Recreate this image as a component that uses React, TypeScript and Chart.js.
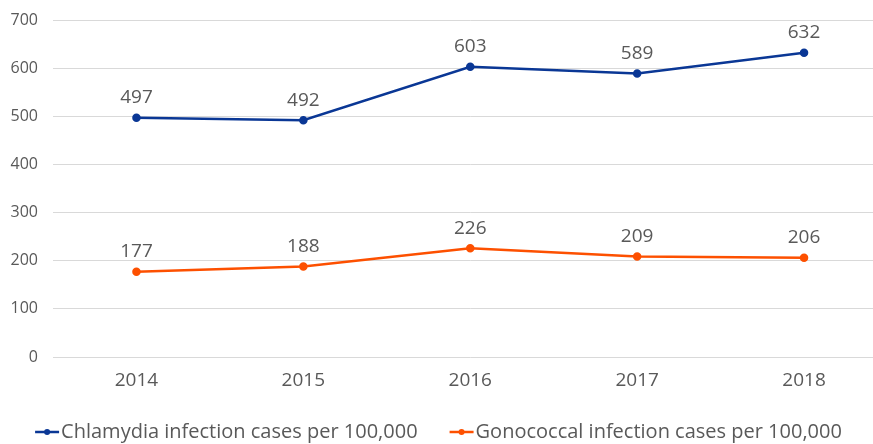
import React, { useEffect, useRef } from "react";
import { Chart, registerables } from "chart.js";

Chart.register(...registerables);

const years = ["2014", "2015", "2016", "2017", "2018"];
const chlamydia = [497, 492, 603, 589, 632];
const gonococcal = [177, 188, 226, 209, 206];
const seriesNames = [
  "Chlamydia infection cases per 100,000",
  "Gonococcal infection cases per 100,000",
];
const blue = "#0a3795";
const orange = "#fd5000";
const textColor = "#595959";
const FONT = "'Open Sans', sans-serif";
const VIEW_W = 873;

const labelPlugin = {
  id: "valueLabels",
  afterDatasetsDraw(chart: any) {
    const ctx = chart.ctx;
    ctx.save();
    ctx.font = `19px ${FONT}`;
    ctx.fillStyle = textColor;
    ctx.textAlign = "center";
    ctx.textBaseline = "middle";
    chart.data.datasets.forEach((ds: any, i: number) => {
      const meta = chart.getDatasetMeta(i);
      meta.data.forEach((pt: any, j: number) => {
        ctx.fillText(String(ds.data[j]), pt.x, pt.y - 20);
      });
    });
    ctx.restore();
  },
};

const legendPlugin = {
  id: "customLegend",
  afterDraw(chart: any) {
    const ctx = chart.ctx;
    ctx.save();
    ctx.font = `20px ${FONT}`;
    const lineW = 24;
    const gapText = 2;
    const gapItem = 32;
    const items = chart.data.datasets.map((ds: any) => ({
      text: ds.label,
      color: ds.borderColor,
      w: lineW + gapText + ctx.measureText(ds.label).width,
    }));
    const total =
      items.reduce((s: number, it: any) => s + it.w, 0) + gapItem * (items.length - 1);
    let x = VIEW_W / 2 - total / 2 + 2;
    const y = 432;
    items.forEach((it: any) => {
      ctx.strokeStyle = it.color;
      ctx.lineWidth = 2.5;
      ctx.beginPath();
      ctx.moveTo(x, y);
      ctx.lineTo(x + lineW, y);
      ctx.stroke();
      ctx.fillStyle = it.color;
      ctx.beginPath();
      ctx.arc(x + lineW / 2, y, 3, 0, Math.PI * 2);
      ctx.fill();
      ctx.fillStyle = textColor;
      ctx.textAlign = "left";
      ctx.textBaseline = "middle";
      ctx.fillText(it.text, x + lineW + gapText, y);
      x += it.w + gapItem;
    });
    ctx.restore();
  },
};

export default function App() {
  const ref = useRef<HTMLCanvasElement>(null);
  useEffect(() => {
    if (!ref.current) return;
    const chart = new Chart(ref.current, {
      type: "line",
      data: {
        labels: years,
        datasets: [
          {
            label: seriesNames[0],
            data: chlamydia,
            borderColor: blue,
            backgroundColor: blue,
            borderWidth: 2.5,
            pointRadius: 3,
            pointHoverRadius: 3,
            tension: 0,
          },
          {
            label: seriesNames[1],
            data: gonococcal,
            borderColor: orange,
            backgroundColor: orange,
            borderWidth: 2.5,
            pointRadius: 3,
            pointHoverRadius: 3,
            tension: 0,
          },
        ],
      },
      options: {
        animation: false,
        responsive: false,
        maintainAspectRatio: false,
        layout: { padding: { left: 0, right: 0, top: 20, bottom: 0 } },
        plugins: {
          legend: { display: false },
          tooltip: { enabled: false },
        },
        scales: {
          x: {
            offset: true,
            grid: { display: false, drawTicks: false },
            border: { display: false },
            ticks: {
              color: textColor,
              font: { family: FONT, size: 19 },
              padding: 12,
            },
            afterFit: (s: any) => {
              s.height = 87;
              s.paddingLeft = 0;
              s.paddingRight = 0;
            },
          },
          y: {
            min: 0,
            max: 700,
            grid: { color: "#d9d9d9", lineWidth: 1, drawTicks: false },
            border: { display: false },
            ticks: {
              stepSize: 100,
              color: textColor,
              font: { family: FONT, size: 16 },
              padding: 15,
            },
            afterFit: (s: any) => {
              s.width = 53;
              s.paddingTop = 0;
              s.paddingBottom = 0;
            },
          },
        },
      },
      plugins: [labelPlugin, legendPlugin],
    });
    return () => chart.destroy();
  }, []);
  return (
    <div
      style={{
        position: "fixed",
        left: 0,
        top: 0,
        width: VIEW_W,
        height: 444,
        overflow: "hidden",
        background: "#fff",
      }}
    >
      <canvas ref={ref} width={893} height={444} style={{ display: "block" }} />
    </div>
  );
}
